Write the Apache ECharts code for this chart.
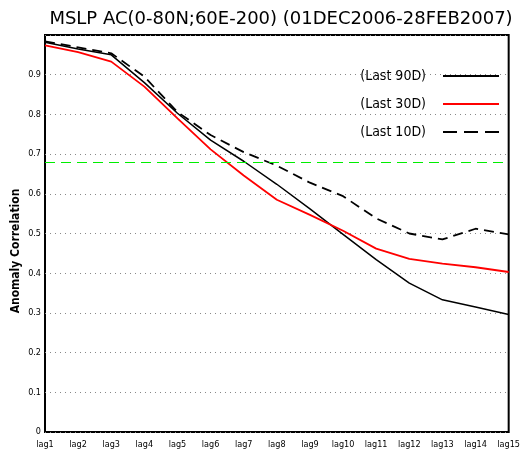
<!DOCTYPE html>
<html><head><meta charset="utf-8">
<script src="https://cdn.jsdelivr.net/npm/echarts@6/dist/echarts.min.js"></script>
<style>html,body{margin:0;padding:0;background:#fff}#c{width:523px;height:459px}</style>
</head><body><div id="c"></div>
<script>
const categories = ['lag1','lag2','lag3','lag4','lag5','lag6','lag7','lag8','lag9','lag10','lag11','lag12','lag13','lag14','lag15'];
const last90 = [0.982,0.965,0.950,0.880,0.803,0.735,0.682,0.624,0.562,0.498,0.434,0.375,0.333,0.315,0.296];
const last30 = [0.974,0.957,0.933,0.870,0.790,0.712,0.646,0.585,0.547,0.507,0.462,0.436,0.424,0.415,0.403];
const last10 = [0.984,0.969,0.954,0.895,0.806,0.748,0.705,0.671,0.628,0.594,0.538,0.500,0.485,0.512,0.498];
const refLevel = 0.68;
const yTicks = [0,0.1,0.2,0.3,0.4,0.5,0.6,0.7,0.8,0.9];
const titleText = 'MSLP AC(0-80N;60E-200) (01DEC2006-28FEB2007)';
const yName = 'Anomaly Correlation';

const chart = echarts.init(document.getElementById('c'));
const font = 'DejaVu Sans Condensed, DejaVu Sans, sans-serif';
chart.setOption({
  animation: false,
  backgroundColor: '#fff',
  title: { text: titleText, left: 276, top: 5, textAlign: 'center',
    textStyle: { fontFamily: 'DejaVu Sans, sans-serif', fontSize: 18, fontWeight: 'normal', color: '#000' } },
  grid: { left: 45, right: 12, top: 35, bottom: 27, show: true, borderColor: '#000', borderWidth: 2 },
  legend: {
    orient: 'vertical', right: 19, top: 64, align: 'right', itemWidth: 56, itemHeight: 12, itemGap: 14,
    textStyle: { fontFamily: font, fontSize: 14, color: '#000' },
    formatter: n => n + '   ',
    data: [
      { name: '(Last 90D)', icon: 'path://M0,0L56,0L56,2L0,2Z' },
      { name: '(Last 30D)', icon: 'path://M0,0L56,0L56,2L0,2Z' },
      { name: '(Last 10D)', icon: 'path://M0,0L14,0L14,2L0,2ZM21,0L35,0L35,2L21,2ZM42,0L56,0L56,2L42,2Z' }
    ]
  },
  graphic: [{ type: 'text', rotation: Math.PI/2, x: 16, y: 251,
    style: { text: yName, font: 'bold 12px ' + font, fill: '#000', textAlign: 'center', textVerticalAlign: 'middle' } }],
  xAxis: {
    type: 'category', data: categories, boundaryGap: false,
    axisLine: { show: false }, axisTick: { show: false },
    axisLabel: { fontFamily: font, fontSize: 9, color: '#000', margin: 8, interval: 0 },
    splitLine: { show: false }
  },
  yAxis: {
    type: 'value', min: 0, max: 1, interval: 0.1,
    axisLine: { show: false }, axisTick: { show: false },
    axisLabel: { fontFamily: font, fontSize: 9, color: '#000', margin: 4,
      formatter: v => (yTicks.some(t => Math.abs(t - v) < 1e-9) ? String(+v.toFixed(1)) : '') },
    splitLine: { show: true, lineStyle: { color: '#888', type: [1, 4], width: 1 } }
  },
  series: [
    { name: '(Last 90D)', type: 'line', data: last90, symbol: 'none', smooth: false,
      lineStyle: { color: '#000', width: 1.5 }, itemStyle: { color: '#000' },
      markLine: { silent: true, symbol: 'none', label: { show: false },
        lineStyle: { color: '#00ee00', type: [10, 6], width: 1.2 }, data: [{ yAxis: refLevel }] } },
    { name: '(Last 30D)', type: 'line', data: last30, symbol: 'none',
      lineStyle: { color: '#ff0000', width: 1.8 }, itemStyle: { color: '#ff0000' } },
    { name: '(Last 10D)', type: 'line', data: last10, symbol: 'none',
      lineStyle: { color: '#000', width: 1.8, type: [10, 6] }, itemStyle: { color: '#000' } }
  ]
});
</script></body></html>
